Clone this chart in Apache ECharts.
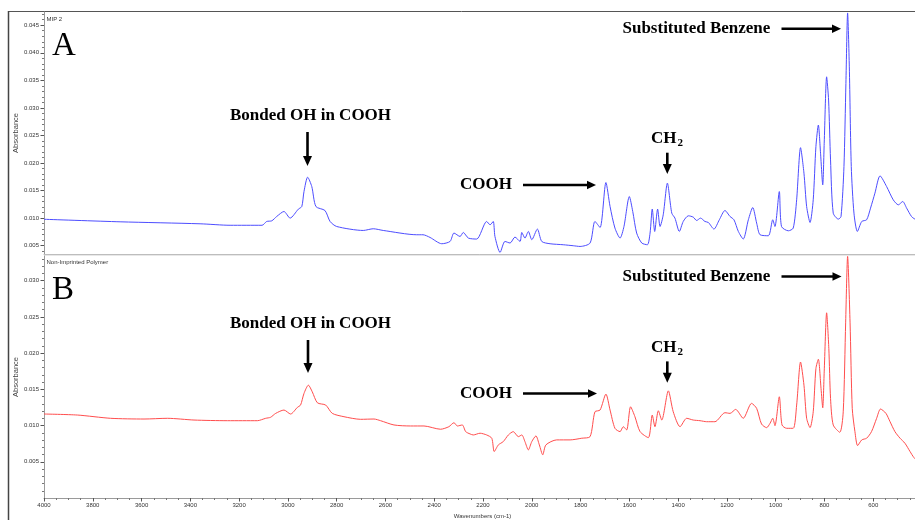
<!DOCTYPE html>
<html><head><meta charset="utf-8">
<script src="https://cdn.jsdelivr.net/npm/echarts@6/dist/echarts.min.js"></script>
<style>html,body{margin:0;padding:0;background:#fff}#c{width:915px;height:520px}</style>
</head><body><div id="c"></div>
<script>
// ---- data (wavenumber cm-1, absorbance) ----
const wnTop = [4000,3688,3360,3237,3106,3087,3066,3046,3016,2991,2957,2943,2934,2919,2902,2885,2848,2827,2800,2691,2650,2609,2472,2446,2417,2369,2335,2319,2294,2281,2260,2226,2185,2171,2158,2151,2130,2110,2089,2069,2048,2041,2028,2014,2000,1977,1959,1925,1871,1830,1802,1761,1741,1720,1696,1679,1659,1638,1622,1600,1586,1570,1549,1526,1515,1506,1496,1484,1474,1461,1444,1426,1413,1395,1379,1358,1338,1324,1308,1290,1276,1253,1231,1208,1187,1171,1153,1133,1112,1094,1078,1064,1030,1012,1003,985,976,948,928,914,898,884,873,859,846,835,825,816,807,801,791,783,775,764,743,732,720,712,705,698,690,679,665,647,627,611,593,572,545,518,497,479,463,443,429,400];
const absTop = [0.00980,0.00934,0.00898,0.00871,0.00871,0.00940,0.00952,0.01030,0.01121,0.01001,0.01164,0.01211,0.01483,0.01743,0.01573,0.01211,0.01139,0.00940,0.00849,0.00777,0.00808,0.00777,0.00699,0.00699,0.00650,0.00536,0.00578,0.00730,0.00668,0.00741,0.00639,0.00621,0.00940,0.00880,0.00940,0.00668,0.00379,0.00578,0.00549,0.00657,0.00578,0.00741,0.00639,0.00759,0.00609,0.00802,0.00578,0.00536,0.00518,0.00500,0.00487,0.00549,0.00940,0.00831,0.01646,0.01211,0.00820,0.00639,0.00849,0.01392,0.01121,0.00730,0.00549,0.00518,0.00730,0.01164,0.00759,0.01164,0.00849,0.01061,0.01635,0.01091,0.01001,0.00759,0.00940,0.01043,0.01019,0.00958,0.01001,0.00940,0.00922,0.00802,0.00971,0.01139,0.01030,0.00971,0.00759,0.00621,0.00971,0.01193,0.00911,0.00699,0.00681,0.00971,0.00849,0.01483,0.00849,0.00771,0.00820,0.01333,0.02279,0.01816,0.01211,0.00922,0.01333,0.02297,0.02690,0.02178,0.01604,0.02359,0.03564,0.03143,0.02057,0.01092,0.00983,0.01030,0.01936,0.03445,0.04723,0.03745,0.01936,0.01092,0.00759,0.00940,0.00971,0.01182,0.01454,0.01767,0.01573,0.01333,0.01242,0.01302,0.01182,0.01030,0.00983,0.00930];

const wnBottom = [4000,3863,3727,3590,3494,3385,3248,3125,3091,3071,3050,3016,2989,2961,2948,2934,2916,2900,2879,2845,2818,2770,2702,2647,2620,2565,2497,2442,2374,2340,2319,2305,2285,2271,2253,2240,2212,2185,2164,2154,2137,2117,2096,2076,2055,2041,2028,2014,2000,1983,1969,1955,1942,1898,1843,1795,1761,1741,1720,1696,1679,1659,1638,1625,1611,1595,1577,1556,1522,1506,1495,1481,1467,1440,1420,1392,1365,1338,1310,1283,1249,1208,1187,1164,1133,1099,1078,1058,1037,1023,1012,1003,985,974,955,928,914,898,884,873,859,846,835,825,814,807,801,791,782,775,764,737,723,713,705,695,686,675,664,647,627,607,586,570,548,531,511,490,470,449,433,400];
const absBottom = [0.01159,0.01145,0.01100,0.01090,0.01100,0.01076,0.01067,0.01067,0.01100,0.01114,0.01168,0.01214,0.01159,0.01251,0.01283,0.01443,0.01557,0.01465,0.01314,0.01283,0.01168,0.01122,0.01086,0.01090,0.01067,0.01008,0.00994,0.00994,0.00949,0.00984,0.01039,0.00994,0.01008,0.00916,0.00884,0.00870,0.00894,0.00870,0.00825,0.00641,0.00733,0.00778,0.00870,0.00916,0.00847,0.00870,0.00778,0.00664,0.00778,0.00857,0.00733,0.00596,0.00733,0.00802,0.00802,0.00825,0.00847,0.01190,0.01214,0.01434,0.01214,0.00962,0.00916,0.00984,0.00939,0.01259,0.01122,0.00916,0.00833,0.01145,0.00984,0.01204,0.01076,0.01479,0.01190,0.00984,0.01100,0.01076,0.01067,0.01053,0.01053,0.01177,0.01168,0.01223,0.01100,0.01306,0.01237,0.01021,0.00971,0.01031,0.01100,0.00998,0.01397,0.01008,0.00962,0.00962,0.01283,0.01877,0.01557,0.01100,0.00971,0.01190,0.01787,0.01915,0.01512,0.01245,0.01740,0.02556,0.02062,0.01375,0.01008,0.00907,0.01190,0.02427,0.03334,0.02427,0.01237,0.00916,0.00723,0.00802,0.00825,0.00916,0.01100,0.01228,0.01169,0.01053,0.00916,0.00825,0.00756,0.00641,0.00558,0.00450];

// ---- tick labels ----
const yLabelsTop = [0.005,0.010,0.015,0.020,0.025,0.030,0.035,0.040,0.045];
const yLabelsBottom = [0.005,0.010,0.015,0.020,0.025,0.030];
const xMin = 400, xMax = 4000, xStep = 200;

function minorList(a, b) { const r = []; for (let i = a; i <= b; i++) r.push(i / 1000); return r; }

const chart = echarts.init(document.getElementById('c'), null, { renderer: 'canvas' });
const lblFont = { fontFamily: 'Liberation Sans', fontSize: 6, color: '#333' };

function yAx(gi, min, max, labels, minor) {
  return [{
    type: 'value', gridIndex: gi, min: min, max: max,
    axisLine: { show: true, lineStyle: { color: '#9a9a9a', width: 1 } },
    axisTick: { show: true, customValues: minor, length: 2, lineStyle: { color: '#777' } },
    axisLabel: { show: true, customValues: labels, margin: 5, formatter: v => v.toFixed(3), ...lblFont },
    splitLine: { show: false }
  }, {
    type: 'value', gridIndex: gi, min: min, max: max, position: 'left',
    axisLine: { show: false },
    axisTick: { show: true, customValues: labels, length: 3.5, lineStyle: { color: '#555' } },
    axisLabel: { show: false }, splitLine: { show: false }
  }];
}

const yAxes = [].concat(
  yAx(0, 0.0035, 0.0474, yLabelsTop, minorList(4, 47)),
  yAx(1, 0, 0.0334, yLabelsBottom, minorList(1, 33))
);

function hArrow(x1, x2, y) {
  return [
    { type: 'line', shape: { x1: x1, y1: y, x2: x2 - 8, y2: y }, style: { stroke: '#000', lineWidth: 2.6 } },
    { type: 'polygon', shape: { points: [[x2 - 9, y - 4.2], [x2, y], [x2 - 9, y + 4.2]] }, style: { fill: '#000' } }
  ];
}
function vArrow(x, y1, y2) {
  return [
    { type: 'line', shape: { x1: x, y1: y1, x2: x, y2: y2 - 8 }, style: { stroke: '#000', lineWidth: 2.6 } },
    { type: 'polygon', shape: { points: [[x - 4.5, y2 - 10], [x, y2], [x + 4.5, y2 - 10]] }, style: { fill: '#000' } }
  ];
}
const annFont = { fontFamily: 'Liberation Serif', fontWeight: 'bold', fontSize: 17, fill: '#000' };
function txt(s, x, y, extra) {
  return { type: 'text', x: x, y: y, style: Object.assign({ text: s, align: 'left', verticalAlign: 'middle' }, annFont, extra || {}) };
}
function smallTxt(s, x, y, rot, align) {
  return { type: 'text', x: x, y: y, rotation: rot || 0,
    style: { text: s, fontFamily: 'Liberation Sans', fontSize: 6, fill: '#333', align: align || 'left', verticalAlign: 'middle' } };
}

const graphics = [].concat(
  [
    { type: 'rect', shape: { x: 44, y: 254, width: 871, height: 2 }, style: { fill: '#e8e8e8' } },
    { type: 'line', shape: { x1: 8, y1: 11.5, x2: 915, y2: 11.5 }, style: { stroke: '#555', lineWidth: 1 } },
    { type: 'line', shape: { x1: 8.5, y1: 11, x2: 8.5, y2: 520 }, style: { stroke: '#444', lineWidth: 1.5 } },
    smallTxt('MIP 2', 46.5, 19.5),
    smallTxt('Non-Imprinted Polymer', 46.5, 262),
    { type: 'text', x: 15.5, y: 133, rotation: Math.PI / 2, style: { text: 'Absorbance', fontFamily: 'Liberation Sans', fontSize: 7.5, fill: '#444', align: 'center', verticalAlign: 'middle' } },
    { type: 'text', x: 15.5, y: 377, rotation: Math.PI / 2, style: { text: 'Absorbance', fontFamily: 'Liberation Sans', fontSize: 7.5, fill: '#444', align: 'center', verticalAlign: 'middle' } },
    smallTxt('Wavenumbers (cm-1)', 482.5, 516.5, 0, 'center'),
    { type: 'text', x: 52, y: 46, style: { text: 'A', fontFamily: 'Liberation Serif', fontSize: 33, fill: '#000', align: 'left', verticalAlign: 'middle' } },
    { type: 'text', x: 52, y: 290, style: { text: 'B', fontFamily: 'Liberation Serif', fontSize: 33, fill: '#000', align: 'left', verticalAlign: 'middle' } },
    // top annotations
    txt('Substituted Benzene', 622.5, 29),
    txt('Bonded OH in COOH', 230, 115.5),
    txt('COOH', 460, 185),
    txt('CH', 651, 139),
    txt('2', 677.5, 143.5, { fontSize: 11 }),
    // bottom annotations
    txt('Substituted Benzene', 622.5, 277),
    txt('Bonded OH in COOH', 230, 323.5),
    txt('COOH', 460, 393.5),
    txt('CH', 651, 347.7),
    txt('2', 677.5, 352.2, { fontSize: 11 })
  ],
  hArrow(781.5, 841, 28.7),
  vArrow(307.5, 132, 166),
  hArrow(523, 596, 185),
  vArrow(667.3, 152.7, 174),
  hArrow(781.5, 841.5, 276.5),
  vArrow(308, 340, 373),
  hArrow(523, 597, 393.5),
  vArrow(667.3, 361.4, 382.7)
);

function pairs(xs, ys) { return xs.map((x, i) => [x, ys[i]]); }

chart.setOption({
  animation: false,
  backgroundColor: '#fff',
  grid: [
    { left: 44, top: 12, width: 878, height: 242, outerBoundsMode: 'none', containLabel: false },
    { left: 44, top: 256, width: 878, height: 242, outerBoundsMode: 'none', containLabel: false }
  ],
  xAxis: [
    { type: 'value', gridIndex: 0, min: xMin, max: xMax, interval: xStep, inverse: true,
      axisLine: { show: true, lineStyle: { color: '#bdbdbd' } }, axisTick: { show: false }, axisLabel: { show: false }, splitLine: { show: false } },
    { type: 'value', gridIndex: 1, min: xMin, max: xMax, interval: xStep, inverse: true,
      axisLine: { show: true, lineStyle: { color: '#9a9a9a' } },
      axisTick: { show: true, length: 3.5, lineStyle: { color: '#555' } },
      minorTick: { show: true, splitNumber: 4, length: 2, lineStyle: { color: '#777' } },
      axisLabel: { show: true, margin: 4, formatter: v => (v === 400 ? '' : String(v)), ...lblFont },
      splitLine: { show: false } }
  ],
  yAxis: yAxes,
  series: [
    { type: 'line', xAxisIndex: 0, yAxisIndex: 0, data: pairs(wnTop, absTop), showSymbol: false, smooth: 0.25,
      lineStyle: { color: '#4d4dff', width: 1 }, silent: true },
    { type: 'line', xAxisIndex: 1, yAxisIndex: 2, data: pairs(wnBottom, absBottom), showSymbol: false, smooth: 0.25,
      lineStyle: { color: '#ff4d4d', width: 1 }, silent: true }
  ],
  graphic: graphics
});
</script>
</body></html>
